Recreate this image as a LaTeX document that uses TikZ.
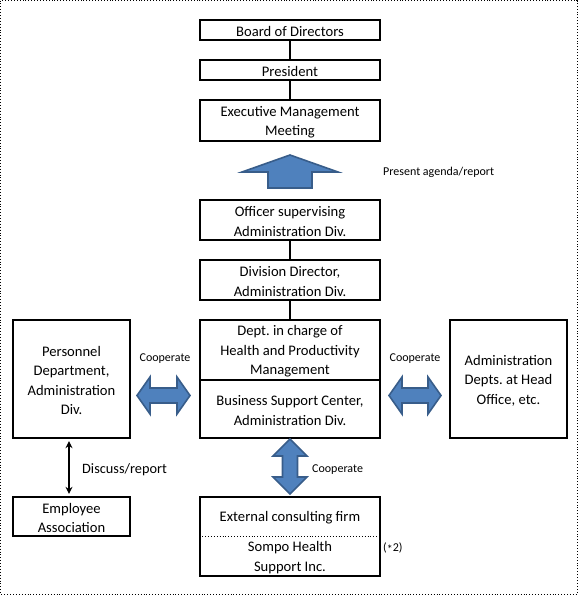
\documentclass[tikz,border=0pt]{standalone}
\usepackage{fontspec}
\setmainfont{Carlito}
\usetikzlibrary{arrows.meta,calc}
\definecolor{afill}{HTML}{4F81BD}
\definecolor{aline}{HTML}{385D8A}
\frenchspacing
\newcommand\mybox[5]{%
  \node[box,minimum width=#3,minimum height=#4] (#1) at #2 {};
  \node[txt] (#1t) at ($(#1)+(0,1.6)$) {#5};}
\begin{document}
\begin{tikzpicture}[x=1pt,y=-1pt,
  box/.style={draw=black,line width=1.3pt,inner sep=0pt},
  txt/.style={inner sep=0pt,align=center,font=\fontsize{14.6}{19.5}\selectfont},
  lbl/.style={inner sep=0pt,font=\fontsize{12}{14}\selectfont},
  link/.style={line width=2.6pt},
  blk/.style={fill=afill,draw=aline,line width=1.6pt,line join=miter}]
\useasboundingbox (0,0) rectangle (580,597);
\draw[line width=0.9pt,dotted] (0.5,0.5) rectangle (577,594);

\mybox{board}{(290,30)}{180pt}{20pt}{Board of Directors}
\mybox{pres}{(290,70)}{180pt}{20pt}{President}
\mybox{exec}{(290,120.5)}{180pt}{41pt}{Executive Management\\Meeting}
\mybox{off}{(290,220)}{180pt}{40pt}{Officer supervising\\Administration Div.}
\mybox{div}{(290,280)}{180pt}{40pt}{Division Director,\\Administration Div.}
\mybox{dept}{(290,350)}{180pt}{60pt}{Dept. in charge of\\Health and Productivity\\Management}
\mybox{bsc}{(290,409)}{180pt}{58pt}{Business Support Center,\\Administration Div.}
\mybox{pers}{(71.5,379)}{117pt}{118pt}{Personnel\\Department,\\Administration\\Div.}
\mybox{adm}{(508.5,379)}{117pt}{118pt}{Administration\\Depts. at Head\\Office, etc.}
\mybox{emp}{(71.5,516.5)}{117pt}{39pt}{Employee\\Association}
\node[box,minimum width=180pt,minimum height=79pt] (ext) at (290,536.5) {};
\draw[line width=0.9pt,dotted] (ext.west |- 0,536) -- (ext.east |- 0,536);
\node[txt] (extt) at (290,518) {External consulting firm};
\node[txt] (sompo) at (290,557.5) {Sompo Health\\Support Inc.};
\node[lbl,anchor=west] (n2) at (383,548) {(\raisebox{-2.5pt}{\large *}2)};

\draw[link] (board) -- (pres);
\draw[link] (pres) -- (exec);
\draw[link] (off) -- (div);
\draw[link] (div) -- (dept);

% big up arrow
\draw[blk] (290,155) -- (338,172) -- (312,172) -- (312,188) -- (268,188) -- (268,172) -- (242,172) -- cycle;
\node[lbl,anchor=west] (pa) at (383,172) {Present agenda/report};

% left double arrow
\draw[blk] (137,395.5) -- (150,377) -- (150,388) -- (177,388) -- (177,377) -- (190,395.5) -- (177,414) -- (177,403) -- (150,403) -- (150,414) -- cycle;
\node[lbl] (c1) at (165,359) {Cooperate};
% right double arrow
\draw[blk] (389,395.5) -- (402,377) -- (402,388) -- (428,388) -- (428,377) -- (441,395.5) -- (428,414) -- (428,403) -- (402,403) -- (402,414) -- cycle;
\node[lbl] (c2) at (415,359) {Cooperate};
% vertical double arrow
\draw[blk] (290,439) -- (307,456) -- (297.5,456) -- (297.5,477) -- (307,477) -- (290,494) -- (273,477) -- (282.5,477) -- (282.5,456) -- (273,456) -- cycle;
\node[lbl,anchor=west] (c3) at (312,470) {Cooperate};

% discuss/report
\draw[line width=1.6pt,{Stealth[length=7pt,width=7pt]}-{Stealth[length=7pt,width=7pt]}] ($(pers.south)+(-2.5,2.5)$) -- ($(emp.north)+(-2.5,-2.5)$);
\node[inner sep=0pt,anchor=west,font=\fontsize{14.3}{16}\selectfont] (dr) at (82,470) {Discuss/report};
\end{tikzpicture}
\end{document}
